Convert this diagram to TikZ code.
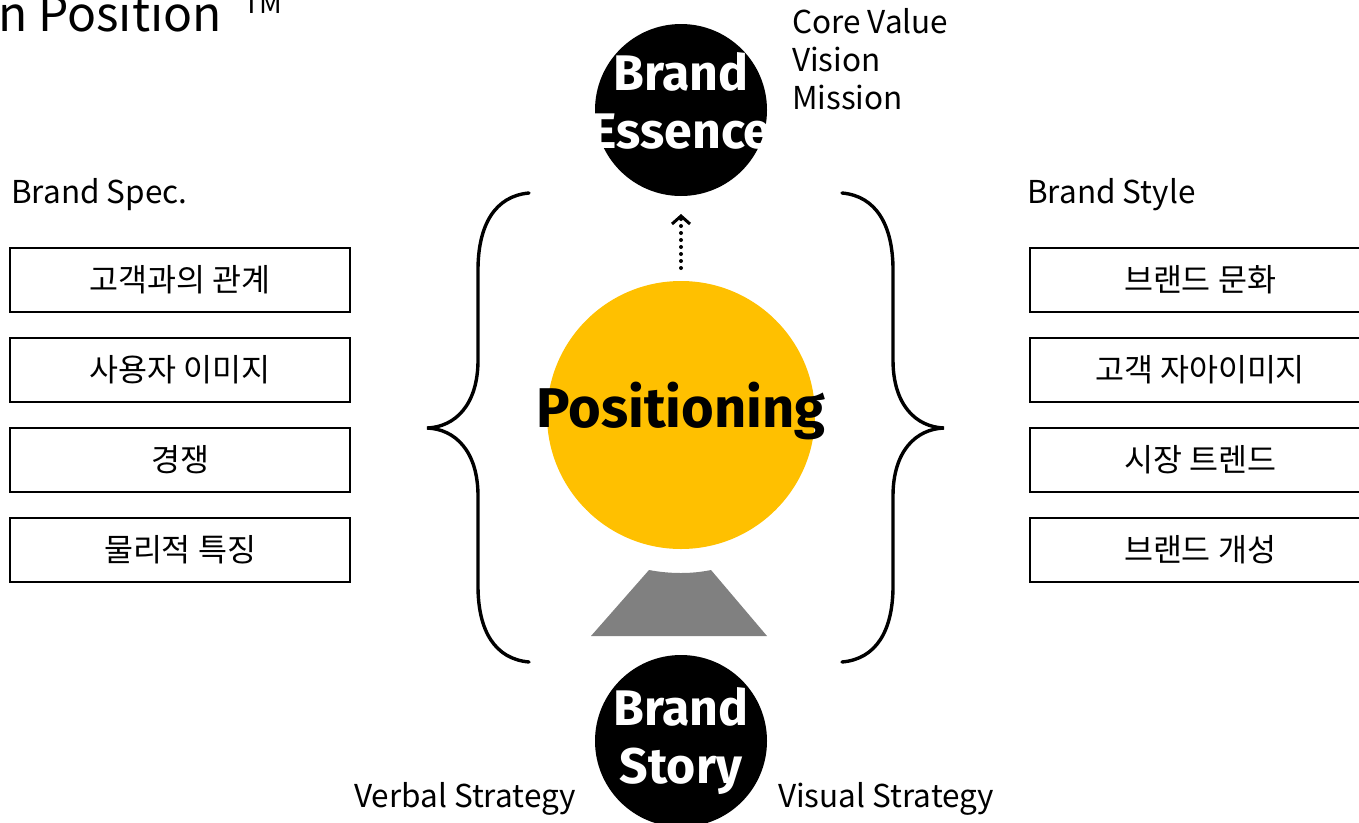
\documentclass[tikz,border=0pt]{standalone}
\usepackage{fontspec}
\setmainfont{Noto Sans CJK KR}
\newfontfamily\techfont{Fira Sans}
\usetikzlibrary{arrows.meta}
\definecolor{posyellow}{HTML}{FFC000}
\definecolor{pedgray}{HTML}{808080}
\begin{document}
\begin{tikzpicture}[x=1pt,y=-1pt,
  box/.style={draw, line width=2pt, minimum width=340pt, minimum height=64pt, inner sep=0pt, font=\fontsize{31.5}{36}\selectfont},
  lbl/.style={inner sep=0pt, font=\fontsize{31.5}{36}\selectfont},
  brace/.style={line width=3.4pt, line cap=round},
  darkdisc/.style={circle, fill=black, minimum size=172pt, inner sep=0pt},
  whitetxt/.style={text=white, inner sep=0pt, align=center, font=\techfont\bfseries\fontsize{50}{58}\selectfont}
]
\useasboundingbox (0,0) rectangle (1359,822);

% title
\node[anchor=base east, inner sep=0pt, font=\fontsize{48}{52}\selectfont] (title) at (222,31) {n Position};
\node[anchor=base west, inner sep=0pt, font=\fontsize{28}{30}\selectfont] (tm) at (243,13) {TM};

% brand essence
\node[darkdisc] (essence) at (681,110) {};
\node[whitetxt] (essencetxt) at (681,101) {Brand\\Essence};
\node[lbl, anchor=north west, align=left, font=\fontsize{31.5}{38}\selectfont] (core) at (792,8) {Core Value\\Vision\\Mission};

% positioning
\node[circle, fill=posyellow, minimum size=268pt, inner sep=0pt] (pos) at (681,415) {};
\node[inner sep=0pt, font=\techfont\bfseries\fontsize{56}{60}\selectfont] (postxt) at (681,411) {Positioning};

% dotted arrow
\coordinate (arrS) at (681,268);
\coordinate (arrE) at (681,214);
\draw[line width=4pt, line cap=round, dash pattern=on 0pt off 7pt, -{Straight Barb[length=8pt,width=18pt,line width=3pt]}] (arrS) -- (arrE);

% pedestal
\fill[pedgray] (649,570) .. controls (670,574) and (692,574) .. (711,570) -- (767,636) -- (591,636) -- cycle;

% brand story
\node[darkdisc] (story) at (681,741) {};
\node[whitetxt] (storytxt) at (681,741) {Brand\\Story};
\node[lbl, anchor=east] (verbal) at (576,799) {Verbal Strategy};
\node[lbl, anchor=west] (visual) at (778,799) {Visual Strategy};

% braces
\draw[brace] (529,193) .. controls (495,196) and (478,225) .. (478,270) -- (478,360)
  .. controls (478,405) and (455,427) .. (427,428)
  .. controls (455,429) and (478,451) .. (478,496) -- (478,586)
  .. controls (478,631) and (495,659) .. (529,662);
\draw[brace] (842,193) .. controls (876,196) and (893,225) .. (893,270) -- (893,360)
  .. controls (893,405) and (916,427) .. (944,428)
  .. controls (916,429) and (893,451) .. (893,496) -- (893,586)
  .. controls (893,631) and (876,659) .. (842,662);

% left column
\node[lbl, anchor=west] (spec) at (11,195) {Brand Spec.};
\node[box] (l1) at (180,280) {고객과의 관계};
\node[box] (l2) at (180,370) {사용자 이미지};
\node[box] (l3) at (180,460) {경쟁};
\node[box] (l4) at (180,550) {물리적 특징};

% right column
\node[lbl, anchor=west] (style) at (1027,195) {Brand Style};
\node[box] (r1) at (1200,280) {브랜드 문화};
\node[box] (r2) at (1200,370) {고객 자아이미지};
\node[box] (r3) at (1200,460) {시장 트렌드};
\node[box] (r4) at (1200,550) {브랜드 개성};
\end{tikzpicture}
\end{document}
